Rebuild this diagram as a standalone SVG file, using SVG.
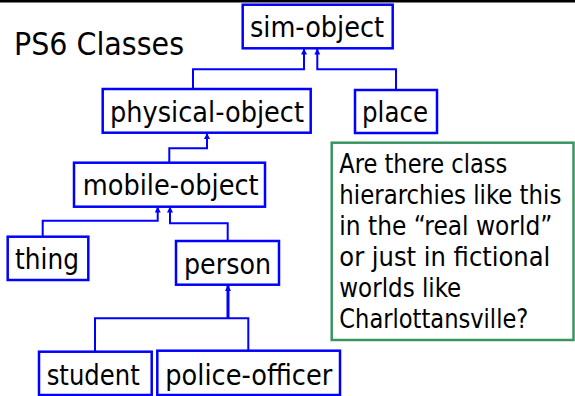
<svg xmlns="http://www.w3.org/2000/svg" width="575" height="396" viewBox="0 0 575 396">
<defs>
<style>
text{font-family:"DejaVu Sans Condensed","DejaVu Sans",sans-serif;font-stretch:condensed;fill:#000}
.box{fill:#fff;stroke:#0000ff;stroke-width:2.5}
.lbl{font-size:28.5px}
.con{fill:none;stroke:#0000ff;stroke-width:2}
.note{fill:#fff;stroke:#3a9562;stroke-width:2.5}
.nt{font-size:26px}
</style>
<marker id="arr" markerUnits="userSpaceOnUse" markerWidth="6" markerHeight="6" refX="6" refY="3" orient="auto">
<path d="M0,0 L6,3 L0,6 z" fill="#0000ff"/>
</marker>
</defs>
<rect x="0" y="0" width="575" height="2.5" fill="#000"/>
<text x="14" y="55" style="font-size:32px" textLength="170" lengthAdjust="spacingAndGlyphs">PS6 Classes</text>
<g id="connectors">
<path class="con" d="M193,89 V69.3 H304 V48.5" marker-end="url(#arr)"/>
<path class="con" d="M396,90 V69.3 H317.3 V48.5" marker-end="url(#arr)"/>
<path class="con" d="M169.3,162.7 V148.3 H207 V133" marker-end="url(#arr)"/>
<path class="con" d="M42.7,236.7 V220.7 H157.7 V206.5" marker-end="url(#arr)"/>
<path class="con" d="M227.7,241 V223.3 H170 V206.5" marker-end="url(#arr)"/>
<path class="con" d="M95,351.7 V318.3 H248.3 V350.7"/>
<path class="con" style="stroke-width:3" d="M228,318.3 V285" marker-end="url(#arr)"/>
</g>
<g id="sim-object"><rect class="box" x="242.7" y="4.7" width="150" height="43.6"/><text class="lbl" x="250" y="37.3" textLength="134" lengthAdjust="spacingAndGlyphs">sim-object</text></g>
<g id="physical-object"><rect class="box" x="102.7" y="89" width="208" height="43.7"/><text class="lbl" x="110" y="121.7" textLength="194" lengthAdjust="spacingAndGlyphs">physical-object</text></g>
<g id="place"><rect class="box" x="355" y="90" width="82" height="43"/><text class="lbl" x="362" y="121.7" textLength="66" lengthAdjust="spacingAndGlyphs">place</text></g>
<g id="mobile-object"><rect class="box" x="74" y="162.7" width="191" height="44"/><text class="lbl" x="82.7" y="195" textLength="176" lengthAdjust="spacingAndGlyphs">mobile-object</text></g>
<g id="thing"><rect class="box" x="7.7" y="236.7" width="80.6" height="43.3"/><text class="lbl" x="15" y="269" textLength="64" lengthAdjust="spacingAndGlyphs">thing</text></g>
<g id="person"><rect class="box" x="176" y="241" width="103" height="43.7"/><text class="lbl" x="184" y="274" textLength="87" lengthAdjust="spacingAndGlyphs">person</text></g>
<g id="student"><rect class="box" x="39" y="351.7" width="112.7" height="43.3"/><text class="lbl" x="46.7" y="385" textLength="93" lengthAdjust="spacingAndGlyphs">student</text></g>
<g id="police-officer"><rect class="box" x="157.3" y="350.7" width="182.7" height="44.3"/><text class="lbl" x="165.3" y="385" textLength="167" lengthAdjust="spacingAndGlyphs">police-officer</text></g>
<g id="note">
<rect class="note" x="331.7" y="142.7" width="241.8" height="197.3"/>
<text class="nt" x="339.3" y="173" textLength="168" lengthAdjust="spacingAndGlyphs">Are there class</text>
<text class="nt" x="339.3" y="204" textLength="222" lengthAdjust="spacingAndGlyphs">hierarchies like this</text>
<text class="nt" x="339.3" y="235" textLength="213" lengthAdjust="spacingAndGlyphs">in the “real world”</text>
<text class="nt" x="339.3" y="266" textLength="211" lengthAdjust="spacingAndGlyphs">or just in fictional</text>
<text class="nt" x="339.3" y="297" textLength="122" lengthAdjust="spacingAndGlyphs">worlds like</text>
<text class="nt" x="339.3" y="328" textLength="189" lengthAdjust="spacingAndGlyphs">Charlottansville?</text>
</g>
</svg>
